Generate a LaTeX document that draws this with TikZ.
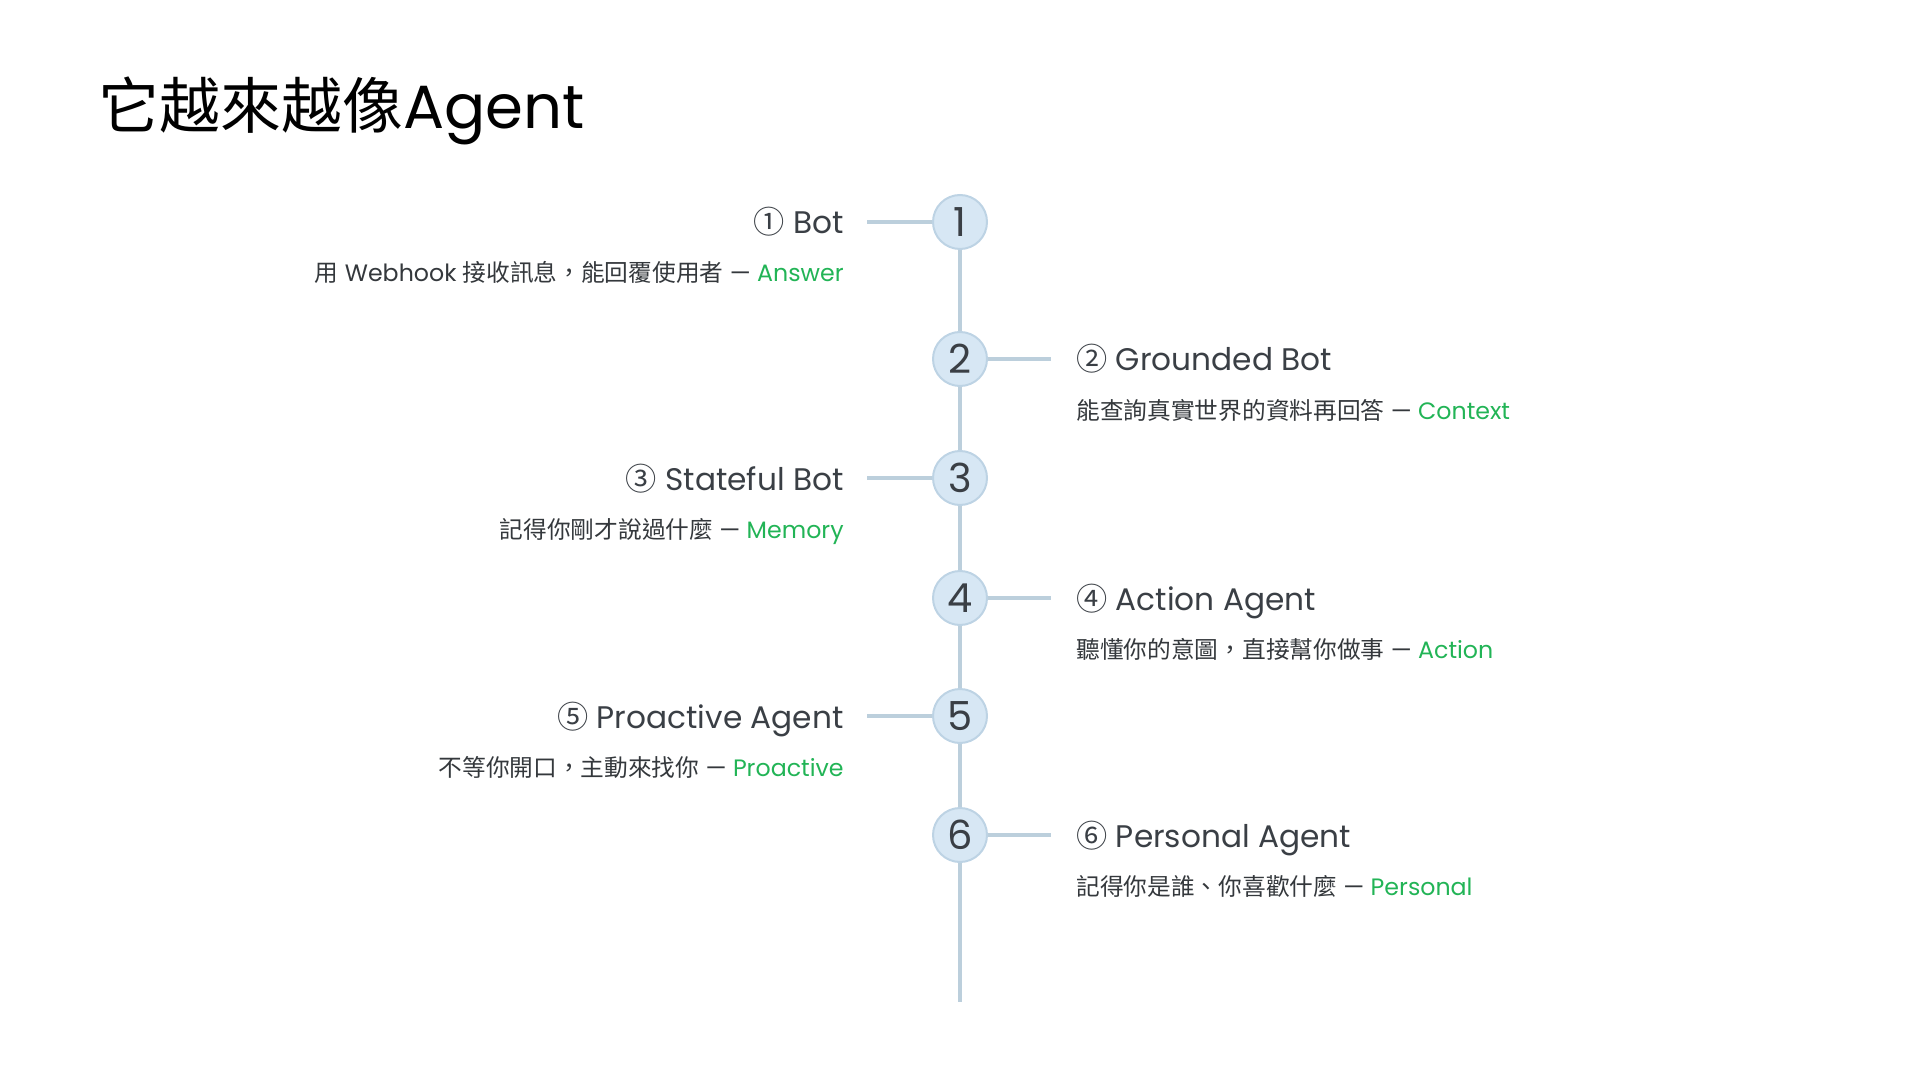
\documentclass[tikz,border=0pt]{standalone}
\usepackage{fontspec}
\setmainfont{Poppins}
\newfontfamily\cjk{Noto Sans CJK TC}
\usetikzlibrary{positioning}

\definecolor{spinecol}{HTML}{BCCFDC}
\definecolor{dotfill}{HTML}{D7E7F4}
\definecolor{dotedge}{HTML}{BDD3E4}
\definecolor{ink}{HTML}{3A3F45}
\definecolor{notegray}{HTML}{34383C}
\definecolor{keygreen}{HTML}{22B456}

\newcommand{\kw}[1]{\textcolor{keygreen}{#1}}

\tikzset{
	stepdot/.style = {circle, draw=dotedge, fill=dotfill, line width=1pt,
		minimum size=27pt, inner sep=0pt, text=ink, font=\fontsize{20}{20}\selectfont},
	stagetitle/.style = {inner sep=0pt, text=ink, font=\fontsize{15.6}{18}\selectfont},
	stagenote/.style = {inner sep=0pt, text=notegray, font=\fontsize{11.85}{13}\selectfont},
	spine/.style = {draw=spinecol, line width=1.75pt}
}

\begin{document}
\begin{tikzpicture}[x=0.5pt, y=-0.5pt]
	\useasboundingbox (0,0) rectangle (1920,1080);
	
	\node[anchor=base west, inner sep=0pt, font=\fontsize{30.5}{33}\selectfont] (heading) at (98,129) {{\cjk 它越來越像}Agent}; % title
	
	% timeline dots
	\foreach \i/\y in {1/222, 2/359, 3/478, 4/598, 5/716, 6/835} {
		\node[stepdot] (n\i) at (960,\y) {\i};
	}
	\coordinate (bottom) at (960,1002);
	
	\draw[spine] (n1) -- (n2);
	\draw[spine] (n2) -- (n3);
	\draw[spine] (n3) -- (n4);
	\draw[spine] (n4) -- (n5);
	\draw[spine] (n5) -- (n6);
	\draw[spine] (n6) -- (bottom);
	
	% left side stages
	\coordinate (c1) at (867,222);
	\draw[spine] (c1) -- (n1);
	\node[stagetitle, anchor=base east] (t1) at (844,234) {{\cjk ①} Bot};
	\node[stagenote, anchor=base east] (d1) at (844,282) {{\cjk 用} Webhook {\cjk 接收訊息，能回覆使用者} — \kw{Answer}};
	
	\coordinate (c3) at (867,478);
	\draw[spine] (c3) -- (n3);
	\node[stagetitle, anchor=base east] (t3) at (844,490) {{\cjk ③} Stateful Bot};
	\node[stagenote, anchor=base east] (d3) at (844,538) {{\cjk 記得你剛才說過什麼} — \kw{Memory}};
	
	\coordinate (c5) at (867,716);
	\draw[spine] (c5) -- (n5);
	\node[stagetitle, anchor=base east] (t5) at (844,728) {{\cjk ⑤} Proactive Agent};
	\node[stagenote, anchor=base east] (d5) at (844,776) {{\cjk 不等你開口，主動來找你} — \kw{Proactive}};
	
	% right side stages
	\coordinate (c2) at (1051,359);
	\draw[spine] (n2) -- (c2);
	\node[stagetitle, anchor=base west] (t2) at (1076,371) {{\cjk ②} Grounded Bot};
	\node[stagenote, anchor=base west] (d2) at (1076,419) {{\cjk 能查詢真實世界的資料再回答} — \kw{Context}};
	
	\coordinate (c4) at (1051,598);
	\draw[spine] (n4) -- (c4);
	\node[stagetitle, anchor=base west] (t4) at (1076,610) {{\cjk ④} Action Agent};
	\node[stagenote, anchor=base west] (d4) at (1076,658) {{\cjk 聽懂你的意圖，直接幫你做事} — \kw{Action}};
	
	\coordinate (c6) at (1051,835);
	\draw[spine] (n6) -- (c6);
	\node[stagetitle, anchor=base west] (t6) at (1076,847) {{\cjk ⑥} Personal Agent};
	\node[stagenote, anchor=base west] (d6) at (1076,895) {{\cjk 記得你是誰、你喜歡什麼} — \kw{Personal}};
	
\end{tikzpicture}
\end{document}
